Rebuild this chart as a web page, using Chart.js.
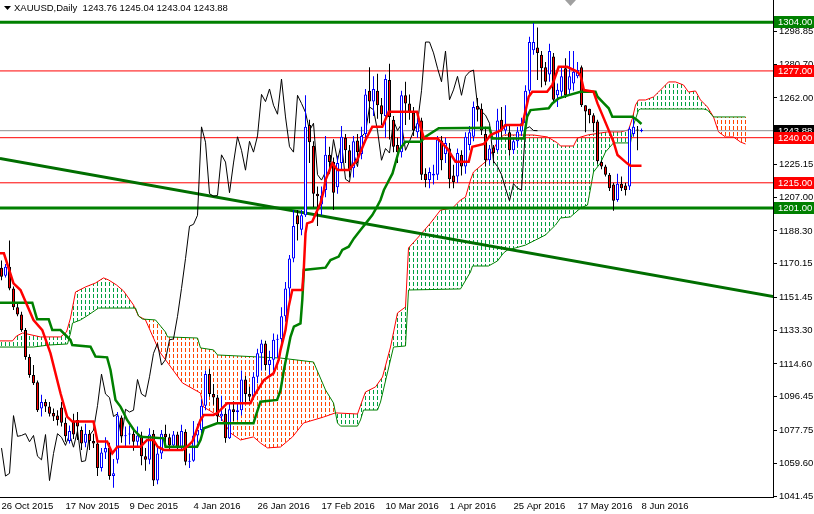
<!DOCTYPE html>
<html>
<head>
<meta charset="utf-8">
<script src="https://cdn.jsdelivr.net/npm/chart.js@4.4.1/dist/chart.umd.min.js"></script>
<style>
  html, body { margin: 0; padding: 0; background: #fff; }
  #wrap { position: relative; width: 814px; height: 514px; }
</style>
</head>
<body>
<div id="wrap"><canvas id="chart" width="814" height="514"></canvas></div>
<script>
// time axis: one slot per daily bar, labels every 16 bars
const dateLabels = ['26 Oct 2015', '17 Nov 2015', '9 Dec 2015', '4 Jan 2016', '26 Jan 2016', '17 Feb 2016',
    '10 Mar 2016', '1 Apr 2016', '25 Apr 2016', '17 May 2016', '8 Jun 2016'];
const dateLabelBars = [0, 16, 32, 48, 64, 80, 96, 112, 128, 144, 160];

// XAUUSD daily candles, bar 0 = 26 Oct 2015 ... bar 160 = 8 Jun 2016
const opens = [
    1168, 1163.5, 1168.5, 1156.5, 1146, 1142, 1133.5, 1118.5, 1108.5, 1104.5,
    1090, 1093.5, 1091, 1087.5, 1086, 1090.5, 1082, 1072, 1082.5, 1083.5,
    1078, 1071, 1076, 1072, 1070.5, 1057, 1065.5, 1068, 1052.5, 1061.5,
    1085, 1074.5, 1075.5, 1076, 1071.5, 1075, 1063.5, 1061.5, 1076, 1050,
    1065, 1076, 1074, 1069.5, 1075.5, 1068.5, 1077, 1060.5, 1061, 1075,
    1078, 1091.5, 1109, 1098, 1096, 1085.5, 1087, 1073.5, 1089.5, 1088,
    1089, 1106, 1098, 1096.5, 1107.5, 1120.5, 1126, 1114, 1117, 1128,
    1128.5, 1141, 1156.5, 1173, 1197, 1189, 1197, 1247, 1235.5, 1209,
    1203, 1211, 1230.5, 1226.5, 1212.5, 1226, 1240, 1233, 1223, 1238.5,
    1231, 1242, 1266, 1260, 1266, 1258, 1252, 1272, 1250, 1236,
    1232, 1263.5, 1259, 1254, 1243, 1249.5, 1220, 1216.5, 1219, 1219.5,
    1238.5, 1231, 1234, 1219, 1218.5, 1230.5, 1224, 1236, 1240.5, 1257.5,
    1256, 1242, 1227.5, 1234.5, 1233, 1250, 1244, 1243, 1233, 1238,
    1243.5, 1248, 1266, 1288.5, 1290, 1286, 1279, 1275, 1285, 1263.5,
    1265.5, 1278.5, 1266.5, 1270, 1274, 1279, 1258, 1256, 1252.5, 1249,
    1226.5, 1224, 1219.5, 1214, 1205.5, 1214.5, 1213.5, 1213, 1242, 1244.5,
    1243.76
];
const highs = [
    1172, 1170, 1183, 1157.5, 1148, 1143.5, 1134.5, 1120, 1114, 1105.5,
    1097.5, 1095, 1093.5, 1090, 1089, 1093.5, 1085, 1080.5, 1087, 1088,
    1080, 1081.5, 1078, 1076, 1073, 1068, 1074, 1071, 1062, 1088,
    1086, 1080, 1080.5, 1079, 1080, 1077, 1068, 1079, 1078, 1068,
    1078, 1081, 1076, 1077.5, 1077, 1081, 1078.5, 1065, 1083, 1081.5,
    1095, 1111, 1112, 1103.5, 1097.5, 1097, 1090, 1093, 1094, 1093,
    1111, 1108, 1102, 1110, 1123, 1128, 1127.5, 1122, 1131.5, 1131,
    1146, 1160, 1175, 1200, 1200, 1200, 1263.5, 1250, 1238, 1213,
    1213, 1241, 1235, 1229, 1230, 1246.5, 1242, 1236, 1241, 1242,
    1246, 1267, 1279, 1274, 1275.5, 1262, 1275, 1281, 1252, 1240,
    1266, 1271, 1264, 1257, 1251, 1251, 1223, 1223.5, 1225, 1241,
    1241, 1240, 1237, 1225, 1234, 1233, 1243, 1246.5, 1260, 1262,
    1259, 1246, 1236, 1236, 1256, 1257, 1258, 1247, 1240, 1246,
    1251, 1269, 1296, 1303.5, 1301, 1288, 1282, 1292, 1287, 1270,
    1279, 1284, 1288, 1288, 1282, 1280, 1258, 1256, 1253.5, 1250,
    1227.5, 1225, 1220.5, 1215, 1220, 1218.5, 1215, 1246, 1251.5, 1246.5,
    1245.04
];
const lows = [
    1161, 1162.5, 1155.5, 1144.5, 1141, 1132.5, 1117, 1107, 1103, 1088,
    1085.5, 1088, 1085.5, 1083, 1080.5, 1080, 1071.5, 1070.5, 1073, 1072.5,
    1067, 1068.5, 1067, 1068, 1052.5, 1055, 1062, 1050.5, 1046, 1059.5,
    1071, 1069, 1070, 1066.5, 1069, 1058.5, 1055.5, 1059, 1047, 1048,
    1062, 1070.5, 1067.5, 1068, 1067, 1067, 1058.5, 1057, 1060.5, 1071,
    1076, 1089, 1096.5, 1092, 1081.5, 1083, 1071, 1073, 1083, 1083.5,
    1086, 1093.5, 1094, 1095, 1104, 1111, 1111, 1107.5, 1111, 1118,
    1123, 1138, 1147, 1171, 1183, 1186, 1196, 1226, 1201.5, 1191,
    1197, 1207, 1222, 1200, 1209, 1222, 1226, 1218, 1218, 1226,
    1228, 1239, 1248, 1252, 1250.5, 1247, 1240, 1239, 1232, 1226,
    1229, 1247, 1250, 1241, 1240, 1216.5, 1212.5, 1212, 1214, 1216.5,
    1222, 1226, 1212, 1212, 1215, 1219, 1220, 1233, 1238, 1249,
    1241.5, 1224, 1225, 1226, 1232, 1240, 1242, 1230, 1231, 1235,
    1241, 1244, 1263, 1286, 1272, 1268, 1269, 1271, 1260, 1257,
    1262.5, 1262, 1264, 1266, 1273, 1257, 1243, 1248, 1243, 1225.5,
    1222.5, 1218.5, 1210.5, 1199.5, 1204.5, 1210.5, 1208, 1211, 1240.5, 1233,
    1243.04
];
const closes = [
    1163, 1168.5, 1156.5, 1146, 1142, 1133.5, 1118.5, 1108.5, 1104, 1089,
    1093.5, 1091, 1087, 1085.5, 1083.5, 1082, 1074.5, 1077.5, 1075.5, 1080,
    1070.5, 1076, 1072, 1070.5, 1057, 1065.5, 1068, 1052.5, 1054, 1086,
    1074.5, 1075, 1076, 1071.5, 1075, 1063.5, 1061.5, 1075.5, 1050, 1065,
    1076, 1074, 1069.5, 1075.5, 1068.5, 1077.5, 1060.5, 1061, 1075, 1078,
    1091.5, 1109, 1098, 1096, 1085.5, 1087, 1073.5, 1089.5, 1088, 1089,
    1106, 1098, 1096.5, 1107.5, 1120.5, 1126, 1114, 1117, 1128, 1128.5,
    1141, 1156.5, 1173, 1191, 1192, 1197, 1246, 1237.5, 1209, 1207.5,
    1208, 1230.5, 1226.5, 1209.5, 1226, 1240.5, 1233, 1222, 1238, 1232,
    1241, 1264, 1260, 1267, 1258, 1253, 1272.5, 1251.5, 1235, 1232,
    1263.5, 1259, 1254, 1244, 1248, 1219.5, 1216.5, 1221, 1220, 1239,
    1227.5, 1237, 1217, 1215.5, 1231.5, 1224, 1240.5, 1243, 1257, 1255.5,
    1244, 1227.5, 1234, 1231.5, 1249.5, 1244, 1247.5, 1233, 1238, 1243.5,
    1248, 1266, 1293, 1293, 1287, 1278.5, 1271, 1288, 1261, 1266.5,
    1274, 1263.5, 1274, 1276.5, 1277.5, 1258, 1254.5, 1252.5, 1248, 1227,
    1224, 1219.5, 1212, 1205, 1214.5, 1212, 1211, 1245, 1246, 1244,
    1243.88
];

// Ichimoku lines as [bar, price]
const tenkan = [[-0.4, 1175.9], [0.6, 1175.9], [3, 1159.3], [4.75, 1155.6], [8, 1139], [10.2, 1133.4], [12.25, 1120.5],
    [14.75, 1098.4], [16.4, 1085.4], [17.7, 1082.7], [23, 1082.7], [24, 1071.6], [26.4, 1071.6], [27.7, 1065.1],
    [29, 1068.8], [34.75, 1068.8], [36.4, 1072.5], [38, 1072.5], [39, 1068.8], [40.6, 1067], [45.25, 1067],
    [46.4, 1068.8], [47.7, 1071.6], [49.75, 1083.6], [50.6, 1086.4], [53, 1086.4], [53.9, 1087.3], [56.4, 1092.8],
    [62.25, 1092.8], [63, 1096.5], [65.6, 1105.7], [68, 1109.4], [69.3, 1116.8], [69.75, 1122.3], [71, 1133.4],
    [71.8, 1146.4], [72.7, 1155.6], [75.2, 1155.6], [75.6, 1168.5], [76, 1187], [76.4, 1192.5], [77.7, 1193.5],
    [79, 1200], [79.75, 1203.6], [80.6, 1211], [81, 1216.5], [82.7, 1225.8], [84, 1222.1], [86.8, 1222.1],
    [88.9, 1227.6], [91, 1238.7], [92.7, 1246.1], [95.2, 1246.1], [96.8, 1254.4], [103.9, 1254.4], [104.75, 1246.1],
    [105.6, 1239.6], [109, 1239.6], [111.4, 1234.1], [113.5, 1226.7], [116.8, 1226.7], [117.7, 1235], [120.6, 1236.5],
    [122.25, 1241.5], [124.75, 1244], [126, 1247], [130.2, 1247], [131.8, 1262.7], [132.7, 1265.5], [136.4, 1265.5],
    [137.7, 1269.2], [139.3, 1279.3], [141.4, 1279.3], [143.9, 1276.6], [144.75, 1274.7], [145.6, 1266.4], [148, 1265.5],
    [149, 1259], [151.8, 1244.2], [153, 1237.8], [154, 1230.4], [156.4, 1225.8], [157.25, 1224.5], [160, 1224.5]];

const kijun = [[-0.4, 1148.6], [7.7, 1148.6], [8.9, 1139.4], [11.8, 1139.4], [12.7, 1133.4], [14.75, 1133.4],
    [17.25, 1127.9], [17.7, 1125.1], [22.25, 1124.2], [23.5, 1118.7], [26.4, 1118.3], [27.25, 1111.3], [28.5, 1094.7],
    [29.75, 1091], [30.6, 1087.3], [31.4, 1083.6], [33.1, 1078], [34.75, 1074.3], [40.6, 1073.4], [41, 1068.8],
    [48.9, 1068.8], [49.75, 1072.5], [50.6, 1079], [53.9, 1081.7], [63, 1081.7], [63.5, 1085.4], [64.75, 1093.7],
    [68.9, 1094.7], [69.75, 1100], [70.6, 1111.3], [72.25, 1129.7], [73.1, 1135.3], [74.75, 1137.1], [75.2, 1150.1],
    [75.6, 1166.7], [81, 1168], [82.25, 1172.2], [84.3, 1174.1], [85.2, 1177.8], [86.8, 1179.6], [88.1, 1184.2],
    [89.75, 1188.8], [91.4, 1193.5], [92.7, 1197.1], [93.9, 1201.8], [94.75, 1205.5], [95.6, 1211], [97.75, 1220.2],
    [99.4, 1233.2], [101, 1237.8], [104.75, 1237.8], [106, 1240.5], [109.3, 1245.2], [122, 1245.5], [122.7, 1239.6],
    [130.6, 1239.6], [131.4, 1251.6], [132.25, 1255.3], [136.8, 1256.3], [137.7, 1259], [139.3, 1261.8],
    [141.8, 1263.6], [144.75, 1265.5], [148.5, 1265.5], [149, 1262.7], [150.6, 1259], [151.8, 1256.3],
    [152.7, 1251.6], [157.7, 1251.6], [158.9, 1249.8], [160, 1247.6]];

const senkouA = [[-0.4, 1127.4], [2.75, 1127.4], [3.75, 1130.1], [5.25, 1131.8], [9.75, 1129.6], [14.75, 1129.6],
    [16.25, 1132.3], [17.25, 1140.1], [18.5, 1154.5], [21, 1157.3], [23.5, 1159.5], [25.5, 1162.3], [26.75, 1161.2],
    [28.75, 1158.4], [30.5, 1155.1], [33, 1147.3], [34.25, 1141.2], [36, 1139], [39, 1124], [39.75, 1120.7],
    [45.25, 1104.1], [49.75, 1098.5], [50.5, 1090.8], [54.75, 1085.2], [57.25, 1076.4], [59.75, 1072.5], [63, 1074.2],
    [64.75, 1070.8], [66.5, 1068.1], [69.75, 1068.6], [72.75, 1074.2], [75.5, 1081.9], [80.5, 1085.2], [83.5, 1087.5],
    [89, 1086.9], [90.25, 1094.7], [91, 1099.1], [93.5, 1101.9], [95.25, 1107.4], [97.25, 1124], [99, 1142.9],
    [101, 1146.2], [101.75, 1178.9], [104, 1184.4], [107.25, 1192.7], [109.75, 1199.9], [112.75, 1201],
    [114.75, 1205.5], [116, 1207.1], [117.25, 1216.6], [118, 1221], [121.5, 1227.6], [124.25, 1238.7],
    [125.5, 1241.5], [133, 1241.5], [136.5, 1240.4], [139, 1237.1], [139.75, 1235.4], [143, 1235.4], [144, 1239.8],
    [146.5, 1241.5], [149.75, 1242.6], [151.5, 1243.2], [154.75, 1243.2], [156.75, 1244.3], [157.75, 1250.9],
    [158.5, 1258.1], [159.25, 1260.9], [161, 1260.9], [163, 1262.6], [164.25, 1265.3], [165.5, 1268.1],
    [166.75, 1270.9], [168.5, 1270.9], [170.5, 1269.2], [171.75, 1265.3], [173.5, 1265.9], [174.75, 1260.9],
    [176.5, 1257], [178, 1251.5], [179.25, 1243.2], [181, 1240.4], [183, 1240.4], [184.75, 1237.6], [186, 1236.5]];

const senkouB = [[-0.4, 1124], [8, 1124], [11.75, 1125.1], [16.5, 1125.7], [17.25, 1131.8], [17.75, 1137.3],
    [19.75, 1139], [21.75, 1141.8], [24.25, 1145.6], [33.5, 1145.6], [34.25, 1141.2], [35.25, 1139.5], [38.5, 1139],
    [41, 1132.3], [41.5, 1129.6], [49, 1129], [49.75, 1123.5], [53, 1122.4], [54, 1119.6], [69.75, 1117.9],
    [78, 1115.7], [80.25, 1104.1], [81, 1100.2], [83, 1093], [84, 1081.9], [84.75, 1080.2], [89, 1080.2],
    [89.75, 1083.6], [90.5, 1089.1], [94, 1089.1], [94.75, 1093.5], [98, 1124], [101, 1124.6], [101.75, 1155.6],
    [114.75, 1156.2], [117.25, 1165.6], [117.75, 1168.9], [121.75, 1168.9], [124, 1171.7], [125.5, 1176.1],
    [126.5, 1177.8], [128.5, 1178.9], [131, 1180.5], [133.5, 1183.3], [136, 1186.1], [138.5, 1191.6],
    [139.75, 1195.5], [142.25, 1196.1], [144.75, 1201], [146.5, 1202.7], [148, 1221], [149.75, 1226],
    [151, 1232.1], [153, 1237.1], [157.25, 1237.1], [158, 1247], [159.25, 1255.3], [159.75, 1255.9],
    [175.5, 1255.9], [176.5, 1255.3], [178, 1251.5], [186, 1251.5]];
const chikouShift = 26;

// drawn objects
const majorLevels = [1304, 1201];
const minorLevels = [1277, 1240, 1215];
const trendLine = [[-0.4, 1228.5], [193, 1151.9]];
const lastPrice = 1243.88;

// price scale
const priceTicks = [1298.85, 1280.70, 1262.00, 1243.85, 1225.15, 1207.00, 1188.30, 1170.15, 1151.45,
    1133.30, 1114.60, 1096.45, 1077.75, 1059.60, 1041.45];
const priceMin = 1040.9;
const priceMax = 1316.3;
const xMin = -0.375;
const xMax = 192.875;

const FONT = '"Liberation Sans", Arial, sans-serif';
const GREEN = '#008000';
const RED = '#ff0000';
const CLOUD_UP = '#00a040';
const CLOUD_DOWN = '#ff4500';
const DASH_ON = 4;
const DASH_PERIOD = 6;

const isBull = opens.map((o, i) => closes[i] >= o);

function flatLine(value, color, width, order) {
    return {
        type: 'line',
        data: [[xMin, value], [xMax, value]],
        borderColor: color,
        borderWidth: width,
        pointRadius: 0,
        fill: false,
        order: order,
    };
}

function indicator(points, color, width, order) {
    return {
        type: 'line',
        data: points,
        borderColor: color,
        borderWidth: width,
        pointRadius: 0,
        tension: 0,
        fill: false,
        order: order,
    };
}

const datasets = [
    indicator(senkouA, RED, 1, 30),
    indicator(senkouB, GREEN, 1, 29),
    ...majorLevels.map(v => flatLine(v, GREEN, 3, 25)),
    ...minorLevels.map(v => flatLine(v, RED, 1, 25)),
    indicator(trendLine, '#006e00', 3, 24),
    flatLine(lastPrice, '#8f8f8f', 1, 23),
    indicator(closes.slice(chikouShift).map((c, j) => [j, c]), '#000000', 1, 22),
    {
        type: 'bar',
        data: highs.map((h, i) => ({ x: i, y: [lows[i], h] })),
        backgroundColor: isBull.map(b => (b ? '#0000ff' : '#000000')),
        borderWidth: 0,
        barThickness: 1,
        grouped: false,
        inflateAmount: 0,
        order: 21,
    },
    {
        type: 'bar',
        data: opens.map((o, i) => ({ x: i, y: [o, closes[i]] })),
        backgroundColor: isBull.map(b => (b ? '#ffffff' : RED)),
        borderColor: isBull.map(b => (b ? '#0000ff' : '#000000')),
        borderWidth: 1,
        borderSkipped: false,
        barThickness: 3,
        minBarLength: 1,
        grouped: false,
        inflateAmount: 0,
        order: 20,
    },
    indicator(kijun, GREEN, 2.5, 2),
    indicator(tenkan, RED, 2.5, 1),
];

// pixel y of a drawn line at pixel x, from the line's own point elements
function lineYAt(points, px) {
    for (let k = 1; k < points.length; k++) {
        const p0 = points[k - 1];
        const p1 = points[k];
        if (px >= p0.x && px <= p1.x) {
            const t = p1.x === p0.x ? 0 : (px - p0.x) / (p1.x - p0.x);
            return p0.y + t * (p1.y - p0.y);
        }
    }
    return null;
}

// Kumo hatching: dotted vertical strokes on every bar column between span A and span B,
// green where A is above B, orange where B is above A.
const cloud = {
    id: 'cloud',
    beforeDatasetsDraw(chart) {
        const a = chart.getDatasetMeta(0).data;
        const b = chart.getDatasetMeta(1).data;
        const { ctx: c, chartArea: area, scales: { x } } = chart;
        const first = Math.floor(x.getPixelForValue(0));
        const step = Math.round(x.getPixelForValue(1) - x.getPixelForValue(0));
        c.save();
        for (let col = first; col <= area.right; col += step) {
            const ya = lineYAt(a, col + 0.5);
            const yb = lineYAt(b, col + 0.5);
            if (ya === null || yb === null) continue;
            const top = Math.round(Math.min(ya, yb));
            const bottom = Math.round(Math.max(ya, yb));
            c.fillStyle = ya < yb ? CLOUD_UP : CLOUD_DOWN;
            for (let py = top - (top % DASH_PERIOD); py < bottom; py += DASH_PERIOD) {
                const y0 = Math.max(py, top);
                const y1 = Math.min(py + DASH_ON, bottom);
                if (y1 > y0) c.fillRect(col, y0, 1, y1 - y0);
            }
        }
        c.restore();
    },
};

const overlay = {
    id: 'mtOverlay',
    afterDraw(chart) {
        const c = chart.ctx;
        const y = chart.scales.y;
        const right = chart.chartArea.right;
        c.save();
        c.font = '9.5px ' + FONT;
        c.textBaseline = 'middle';
        c.textAlign = 'left';

        // symbol header
        c.fillStyle = '#000';
        c.beginPath();
        c.moveTo(4, 6);
        c.lineTo(11, 6);
        c.lineTo(7.5, 10);
        c.closePath();
        c.fill();
        const ohlc = [opens, highs, lows, closes].map(arr => arr[arr.length - 1].toFixed(2)).join(' ');
        c.fillText('XAUUSD,Daily  ' + ohlc, 14, 8.5);

        // chart shift marker
        c.fillStyle = '#a0a0a0';
        c.beginPath();
        c.moveTo(565, 0);
        c.lineTo(576, 0);
        c.lineTo(570.5, 6);
        c.closePath();
        c.fill();

        // price tags on the axis
        const tags = [
            [lastPrice, '#000000'],
            ...majorLevels.map(v => [v, GREEN]),
            ...minorLevels.map(v => [v, RED]),
        ];
        tags.forEach(([value, bg]) => {
            const py = Math.round(y.getPixelForValue(value));
            c.fillStyle = bg;
            c.fillRect(right + 1, py - 6, 40, 12);
            c.fillStyle = '#ffffff';
            c.fillText(value.toFixed(2), right + 5, py + 0.5);
        });
        c.restore();
    },
};

new Chart(document.getElementById('chart'), {
    type: 'line',
    data: { datasets },
    options: {
        responsive: false,
        animation: false,
        devicePixelRatio: 1,
        layout: { padding: 0 },
        plugins: {
            legend: { display: false },
            tooltip: { enabled: false },
        },
        scales: {
            x: {
                type: 'linear',
                min: xMin,
                max: xMax,
                offset: false,
                grid: { display: false, drawTicks: false, tickLength: 0, offset: false },
                border: { display: true, color: '#000', width: 1 },
                afterBuildTicks: scale => {
                    scale.ticks = dateLabelBars.map(v => ({ value: v }));
                },
                afterFit: scale => {
                    scale.height = 17;
                    scale.paddingLeft = 0;
                    scale.paddingRight = 0;
                },
                ticks: {
                    autoSkip: false,
                    maxRotation: 0,
                    align: 'start',
                    padding: 4,
                    color: '#000',
                    font: { family: FONT, size: 9.5 },
                    callback: v => dateLabels[dateLabelBars.indexOf(v)],
                },
            },
            y: {
                type: 'linear',
                position: 'right',
                min: priceMin,
                max: priceMax,
                grid: { display: true, drawOnChartArea: false, drawTicks: true, tickLength: 4, color: '#000' },
                border: { display: true, color: '#000', width: 1 },
                afterBuildTicks: scale => {
                    scale.ticks = priceTicks.map(v => ({ value: v }));
                },
                afterFit: scale => {
                    scale.width = 41;
                    scale.paddingTop = 0;
                    scale.paddingBottom = 0;
                },
                ticks: {
                    padding: 2,
                    color: '#000',
                    font: { family: FONT, size: 9.5 },
                    callback: v => v.toFixed(2),
                },
            },
        },
    },
    plugins: [cloud, overlay],
});
</script>
</body>
</html>
